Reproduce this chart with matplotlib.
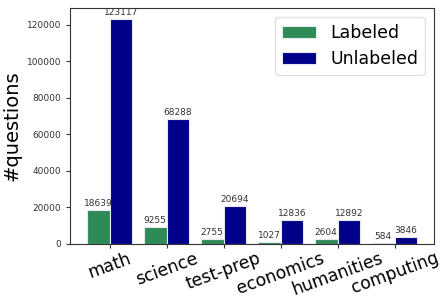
import matplotlib
matplotlib.use("Agg")
import matplotlib.pyplot as plt
import numpy as np

categories = ["math", "science", "test-prep", "economics", "humanities", "computing"]
labeled = [18639, 9255, 2755, 1027, 2604, 584]
unlabeled = [123117, 68288, 20694, 12836, 12892, 3846]

fig, ax = plt.subplots(figsize=(4.4, 2.99), dpi=100)
x = np.arange(len(categories))
w = 0.4
b1 = ax.bar(x - w / 2, labeled, width=w, color="#2E8B57", edgecolor="#e6e6f0",
            linewidth=0.8, label="Labeled")
b2 = ax.bar(x + w / 2, unlabeled, width=w, color="#000088", edgecolor="#e6e6f0",
            linewidth=0.8, label="Unlabeled")

for bars in (b1, b2):
    for r in bars:
        h = r.get_height()
        ax.annotate(f"{int(h)}", (r.get_x() + r.get_width() / 2, h),
                    xytext=(0, 1.5), textcoords="offset points",
                    ha="center", va="bottom", fontsize=6.5, color="#333333")

ax.set_ylim(0, max(unlabeled) * 1.05)
ax.set_xticks(x)
ax.set_xticklabels(categories, rotation=20, fontsize=12.3)
ax.tick_params(axis="y", labelsize=6.5, colors="#333333", length=3)
ax.tick_params(axis="x", length=3, pad=1, colors="#333333", labelcolor="black")
ax.set_ylabel("#questions", fontsize=14)
for s in ax.spines.values():
    s.set_color("#333333")
ax.legend(loc="upper right", fontsize=12.5, handlelength=2.0, framealpha=0.9,
          edgecolor="#dddddd")

fig.subplots_adjust(left=0.16, right=0.986, top=0.973, bottom=0.185)
fig.savefig("out.png", dpi=100)
